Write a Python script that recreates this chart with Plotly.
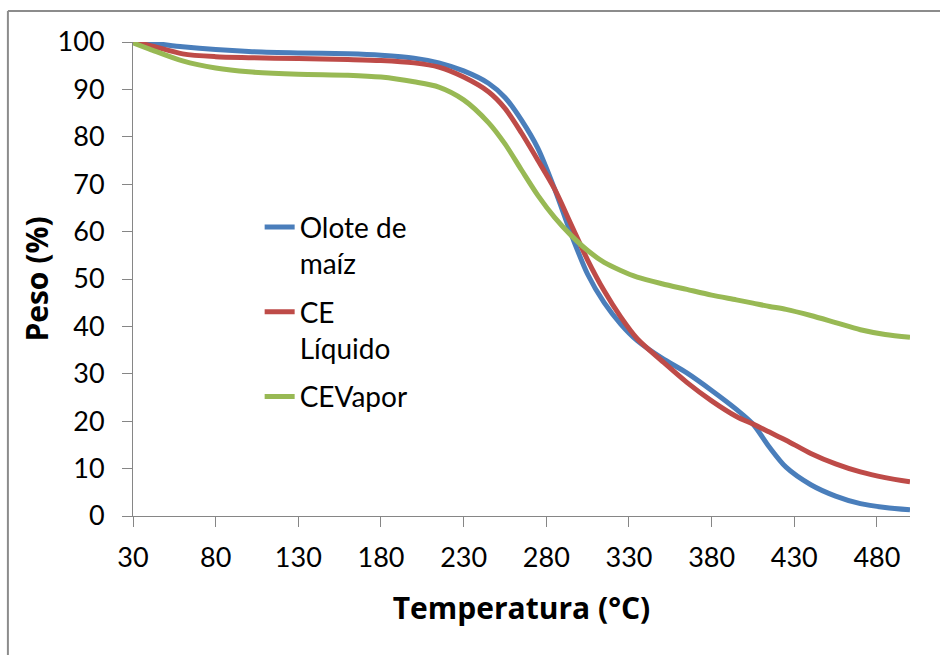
import plotly.graph_objects as go

# Temperature (°C) sample points for the thermogravimetric curves
temperatura = [30, 40, 60, 80, 100, 130, 160, 180, 200, 215, 230, 245, 255, 265, 275,
               285, 295, 305, 315, 325, 335, 350, 365, 380, 395, 405, 415, 425, 440,
               455, 470, 485, 500]

# Remaining weight (%) for each sample
olote_maiz = [100, 99.8, 99.0, 98.4, 98.0, 97.7, 97.5, 97.2, 96.6, 95.6, 93.9, 91.3, 88.3,
              83.5, 77.5, 69.0, 59.5, 51.0, 45.0, 40.5, 37.0, 33.3, 30.2, 26.5, 22.5,
              19.4, 14.5, 10.3, 6.6, 4.2, 2.6, 1.8, 1.3]
ce_liquido = [100, 99.3, 97.5, 96.9, 96.7, 96.5, 96.3, 96.1, 95.6, 94.7, 92.6, 89.5, 86.0,
              80.8, 75.0, 69.0, 61.5, 54.0, 47.5, 42.0, 37.4, 32.7, 28.2, 24.3, 21.0,
              19.4, 17.7, 16.0, 13.2, 11.0, 9.3, 8.1, 7.2]
ce_vapor = [99.8, 98.5, 96.0, 94.5, 93.7, 93.2, 93.0, 92.6, 91.6, 90.5, 87.8, 83.0, 78.5,
            73.0, 67.6, 63.0, 59.2, 56.0, 53.5, 51.8, 50.4, 49.0, 47.8, 46.6, 45.6,
            44.9, 44.2, 43.6, 42.3, 40.8, 39.3, 38.3, 37.7]

series = [
    ("Olote de<br>maíz", olote_maiz, "#4A7EBB"),
    ("CE<br>Líquido", ce_liquido, "#BE4B48"),
    ("CEVapor", ce_vapor, "#98B954"),
]

FONT = "Lato"
TITLE_FONT = "Open Sans"

fig = go.Figure()
for i, (name, values, color) in enumerate(series):
    fig.add_trace(go.Scatter(
        x=temperatura, y=values, name=name, mode="lines",
        legendgroup=f"g{i}",
        line=dict(color=color, width=5, shape="spline", smoothing=0.8),
    ))

axis_color = "#868686"
fig.update_layout(
    width=940, height=655,
    margin=dict(l=133, r=30, t=42, b=139),
    paper_bgcolor="white", plot_bgcolor="white",
    font=dict(family=FONT, size=27, color="#000000"),
    showlegend=True,
    legend=dict(
        x=0.163, y=0.662, xanchor="left", yanchor="top",
        bgcolor="rgba(0,0,0,0)", valign="top",
        font=dict(family=FONT, size=28, color="#000000"),
        tracegroupgap=9,
    ),
    xaxis=dict(
        range=[30, 500], tick0=30, dtick=50,
        showgrid=False, zeroline=False,
        showline=True, linecolor=axis_color, linewidth=1,
        ticks="outside", ticklen=10, tickcolor=axis_color,
        ticklabelstandoff=8,
        tickfont=dict(family=FONT, size=27),
        title=dict(text="<b>Temperatura (°C)</b>",
                   font=dict(family=TITLE_FONT, size=30), standoff=25),
    ),
    yaxis=dict(
        range=[0, 100], tick0=0, dtick=10,
        showgrid=False, zeroline=False,
        showline=True, linecolor=axis_color, linewidth=1,
        ticks="outside", ticklen=10, tickcolor=axis_color,
        ticklabelstandoff=12,
        tickfont=dict(family=FONT, size=27),
        title=dict(text="<b>Peso (%)</b>",
                   font=dict(family=TITLE_FONT, size=30), standoff=0),
    ),
    shapes=[
        # chart frame (top and left edges)
        dict(type="line", xref="paper", yref="paper", x0=-0.161, x1=1.2, y0=1.0654, y1=1.0654,
             line=dict(color="#8C8C8C", width=2)),
        dict(type="line", xref="paper", yref="paper", x0=-0.161, x1=-0.161, y0=-0.5, y1=1.0654,
             line=dict(color="#8C8C8C", width=2)),
    ],
)

fig.write_html("out.html")
